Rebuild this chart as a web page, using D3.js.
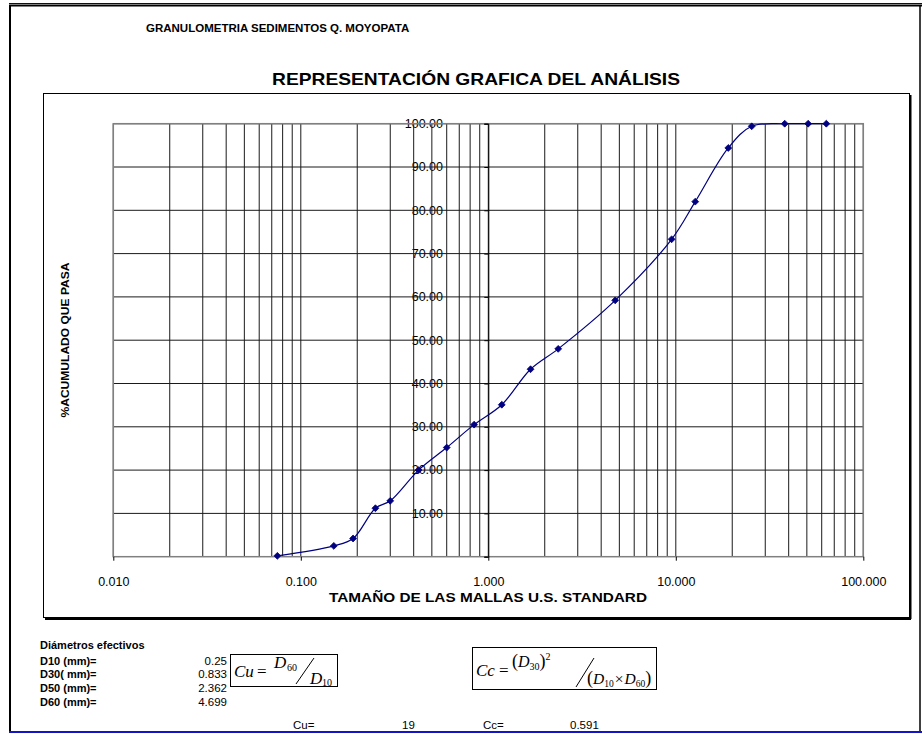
<!DOCTYPE html>
<html>
<head>
<meta charset="utf-8">
<script src="https://cdn.jsdelivr.net/npm/d3@7"></script>
<style>
  html, body { margin: 0; padding: 0; background: #fff; }
  svg { display: block; }
  text { font-family: Arial, "Liberation Sans", Helvetica, sans-serif; fill: #000; }
  .serif { font-family: "Liberation Serif", "Times New Roman", serif; }
</style>
</head>
<body>
<svg id="chart" width="922" height="734"></svg>
<script>
// ---- data ----
const sieveSizes = [0.075, 0.150, 0.190, 0.250, 0.300, 0.425, 0.600, 0.840, 1.180, 1.680, 2.360, 4.750, 9.500, 12.700, 19.050, 25.400, 38.100, 50.800, 63.500];
const percentPassing = [0.2, 2.5, 4.2, 11.2, 12.9, 20.0, 25.2, 30.5, 35.1, 43.3, 48.0, 59.2, 73.3, 82.0, 94.4, 99.4, 100, 100, 100];
const xTickValues = [0.01, 0.1, 1, 10, 100];
const yTickValues = [10, 20, 30, 40, 50, 60, 70, 80, 90, 100];
const diameterLabels = ["D10 (mm)=", "D30( mm)=", "D50 (mm)=", "D60 (mm)="];
const diameterValues = ["0.25", "0.833", "2.362", "4.699"];
const cuValue = "19";
const ccValue = "0.591";

const svg = d3.select("#chart");

// ---- outer page frame ----
svg.append("line").attr("x1", 9).attr("x2", 922).attr("y1", 3.5).attr("y2", 3.5).attr("stroke", "#000080").attr("stroke-width", 1);
svg.append("line").attr("x1", 9).attr("x2", 922).attr("y1", 5.5).attr("y2", 5.5).attr("stroke", "#000").attr("stroke-width", 2);
svg.append("line").attr("x1", 10).attr("x2", 10).attr("y1", 5).attr("y2", 732).attr("stroke", "#000").attr("stroke-width", 2);
svg.append("line").attr("x1", 920).attr("x2", 920).attr("y1", 5).attr("y2", 732).attr("stroke", "#000").attr("stroke-width", 1.5);
svg.append("line").attr("x1", 9).attr("x2", 922).attr("y1", 732).attr("y2", 732).attr("stroke", "#1414c8").attr("stroke-width", 2);

// top title
svg.append("text").attr("x", 146).attr("y", 32).attr("font-size", 11.5).attr("font-weight", "bold")
  .text("GRANULOMETRIA SEDIMENTOS Q. MOYOPATA");

// chart area box with shadow
svg.append("rect").attr("x", 43.5).attr("y", 93.5).attr("width", 866).attr("height", 524)
  .attr("fill", "#fff").attr("stroke", "#000").attr("stroke-width", 1);
svg.append("line").attr("x1", 45).attr("x2", 911).attr("y1", 619).attr("y2", 619).attr("stroke", "#000").attr("stroke-width", 2);
svg.append("line").attr("x1", 910.5).attr("x2", 910.5).attr("y1", 95).attr("y2", 619).attr("stroke", "#000").attr("stroke-width", 2);

svg.append("text").attr("x", 476).attr("y", 85).attr("text-anchor", "middle").attr("font-size", 16.5).attr("font-weight", "bold")
  .attr("textLength", 408).attr("lengthAdjust", "spacingAndGlyphs")
  .text("REPRESENTACIÓN GRAFICA DEL ANÁLISIS");

// ---- scales ----
const x = d3.scaleLog().domain([0.01, 100]).range([113.3, 863.3]);
const y = d3.scaleLinear().domain([0, 100]).range([556.7, 123.7]);

// y labels (under grid lines)
svg.append("g").selectAll("text").data(yTickValues).join("text")
  .attr("x", 443).attr("y", d => y(d)).attr("dy", "0.35em").attr("text-anchor", "end")
  .attr("font-size", 12.5).text(d => d3.format(".2f")(d));

// grid
const minor = [];
[0.01, 0.1, 1, 10].forEach(dec => { for (let k = 1; k <= 9; k++) minor.push(dec * k); });
minor.push(100);
const grid = svg.append("g");
grid.selectAll("line.v").data(minor).join("line").attr("class", "v")
  .attr("x1", d => x(d)).attr("x2", d => x(d)).attr("y1", y(100)).attr("y2", y(0))
  .attr("stroke", "#1a1a1a").attr("stroke-width", 1);
grid.selectAll("line.h").data(yTickValues).join("line").attr("class", "h")
  .attr("x1", x(0.01)).attr("x2", x(100)).attr("y1", d => y(d)).attr("y2", d => y(d))
  .attr("stroke", "#1a1a1a").attr("stroke-width", 1);
// plot border
svg.append("rect").attr("x", x(0.01)).attr("y", y(100)).attr("width", x(100) - x(0.01)).attr("height", y(0) - y(100))
  .attr("fill", "none").attr("stroke", "#808080").attr("stroke-width", 1.5);

// y axis at x=1 with ticks
const yAxis = d3.axisLeft(y).tickValues([0].concat(yTickValues)).tickSize(4).tickFormat("");
svg.append("g").attr("transform", `translate(${x(1)},0)`).call(yAxis)
  .call(g => g.select(".domain").attr("stroke", "#000"))
  .call(g => g.selectAll(".tick line").attr("stroke", "#000"));

// x axis
const xAxis = d3.axisBottom(x).tickValues(xTickValues).tickSize(4).tickPadding(16).tickFormat(d3.format(".3f"));
svg.append("g").attr("transform", `translate(0,${y(0)})`).call(xAxis)
  .call(g => g.select(".domain").remove())
  .call(g => g.selectAll(".tick line").attr("stroke", "#000"))
  .call(g => g.selectAll(".tick text").attr("font-size", 12.5).attr("font-family", "Arial, 'Liberation Sans', sans-serif").attr("fill", "#000"));

svg.append("text").attr("x", 488).attr("y", 602).attr("text-anchor", "middle").attr("font-size", 13).attr("font-weight", "bold")
  .attr("textLength", 318).attr("lengthAdjust", "spacingAndGlyphs")
  .text("TAMAÑO DE LAS MALLAS U.S. STANDARD");

svg.append("text").attr("transform", "translate(69,340) rotate(-90)").attr("text-anchor", "middle")
  .attr("font-size", 11).attr("font-weight", "bold").attr("textLength", 155).attr("lengthAdjust", "spacingAndGlyphs")
  .text("%ACUMULADO QUE PASA");

// ---- curve ----
const pts = sieveSizes.map((s, i) => [s, percentPassing[i]]);
const line = d3.line().x(d => x(d[0])).y(d => y(d[1])).curve(d3.curveCatmullRom.alpha(0.5));
svg.append("path").datum(pts).attr("d", line).attr("fill", "none").attr("stroke", "#000080").attr("stroke-width", 1.2);
svg.append("g").selectAll("path").data(pts).join("path")
  .attr("transform", d => `translate(${x(d[0])},${y(d[1])})`)
  .attr("d", d3.symbol(d3.symbolDiamond2, 30)())
  .attr("fill", "#000080").attr("stroke", "#000080").attr("stroke-width", 0.8);

// ---- bottom table ----
svg.append("text").attr("x", 40).attr("y", 649).attr("font-size", 11).attr("font-weight", "bold").text("Diámetros efectivos");
const rowY = [665, 678, 692, 706];
svg.append("g").selectAll("text").data(diameterLabels).join("text")
  .attr("x", 40).attr("y", (d, i) => rowY[i]).attr("font-size", 11).attr("font-weight", "bold").text(d => d);
svg.append("g").selectAll("text").data(diameterValues).join("text")
  .attr("x", 227).attr("y", (d, i) => rowY[i]).attr("text-anchor", "end").attr("font-size", 11.5).text(d => d);

// Cu formula
svg.append("rect").attr("x", 230.5).attr("y", 654.5).attr("width", 107).attr("height", 32).attr("fill", "none").attr("stroke", "#000");
const cu = svg.append("g");
cu.append("text").attr("class", "serif").attr("x", 234).attr("y", 677).attr("font-size", 17).attr("font-style", "italic").text("Cu");
cu.append("text").attr("class", "serif").attr("x", 257).attr("y", 677).attr("font-size", 17).text("=");
cu.append("text").attr("class", "serif").attr("x", 274).attr("y", 668).attr("font-size", 17).attr("font-style", "italic").text("D");
cu.append("text").attr("class", "serif").attr("x", 287).attr("y", 671).attr("font-size", 10).text("60");
cu.append("line").attr("x1", 296).attr("y1", 684).attr("x2", 314).attr("y2", 658).attr("stroke", "#000").attr("stroke-width", 1);
cu.append("text").attr("class", "serif").attr("x", 310).attr("y", 684).attr("font-size", 17).attr("font-style", "italic").text("D");
cu.append("text").attr("class", "serif").attr("x", 322).attr("y", 686).attr("font-size", 10).text("10");

// Cc formula
svg.append("rect").attr("x", 472.5).attr("y", 647.5).attr("width", 184).attr("height", 42).attr("fill", "none").attr("stroke", "#000");
const cc = svg.append("g");
cc.append("text").attr("class", "serif").attr("x", 476).attr("y", 676).attr("font-size", 17).attr("font-style", "italic").text("Cc");
cc.append("text").attr("class", "serif").attr("x", 499).attr("y", 676).attr("font-size", 17).text("=");
const upper = cc.append("text").attr("class", "serif").attr("x", 512).attr("y", 667).attr("font-size", 16);
upper.append("tspan").attr("font-size", 18).text("(");
upper.append("tspan").attr("font-style", "italic").text("D");
upper.append("tspan").attr("font-size", 10).attr("dy", 3).text("30");
upper.append("tspan").attr("font-size", 18).attr("dy", -3).text(")");
upper.append("tspan").attr("font-size", 10).attr("dy", -7).text("2");
cc.append("line").attr("x1", 576).attr("y1", 687).attr("x2", 594).attr("y2", 658).attr("stroke", "#000").attr("stroke-width", 1);
const lower = cc.append("text").attr("class", "serif").attr("x", 587).attr("y", 684).attr("font-size", 15.5);
lower.append("tspan").attr("font-size", 18).text("(");
lower.append("tspan").attr("font-style", "italic").text("D");
lower.append("tspan").attr("font-size", 9.5).attr("dy", 3).text("10");
lower.append("tspan").attr("dy", -3).attr("dx", 1).text("×");
lower.append("tspan").attr("font-style", "italic").attr("dx", 1).text("D");
lower.append("tspan").attr("font-size", 9.5).attr("dy", 3).text("60");
lower.append("tspan").attr("font-size", 18).attr("dy", -3).text(")");

// results row
svg.append("text").attr("x", 293).attr("y", 729).attr("font-size", 11.5).text("Cu=");
svg.append("text").attr("x", 402).attr("y", 729).attr("font-size", 11.5).text(cuValue);
svg.append("text").attr("x", 483).attr("y", 729).attr("font-size", 11.5).text("Cc=");
svg.append("text").attr("x", 570).attr("y", 729).attr("font-size", 11.5).text(ccValue);
</script>
</body>
</html>
